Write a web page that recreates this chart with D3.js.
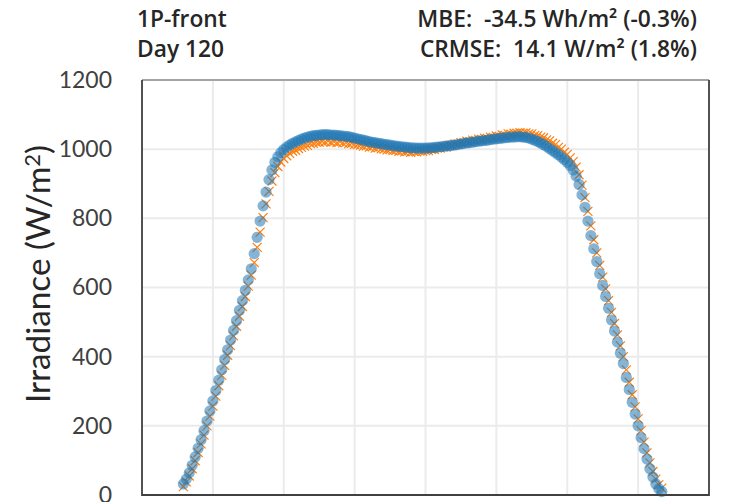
<!DOCTYPE html>
<html>
<head>
<meta charset="utf-8">
<script src="https://cdn.jsdelivr.net/npm/d3@7"></script>
<style>
  body { margin: 0; background: #fff; }
  text { font-family: Lato, 'Open Sans', sans-serif; }
</style>
</head>
<body>
<svg id="chart" width="731" height="502"></svg>
<script>
// 5-minute samples, first one at 05:10
const startTime = '05:10';
const stepMinutes = 5;

// measured (blue circles)
const measured = [
  32, 46, 64, 86, 110, 135, 160, 186, 214, 243, 272, 302,
  332, 362, 392, 420, 448, 476, 504, 534, 562, 592, 622, 654,
  698, 745, 792, 836, 876, 912, 940, 962, 978, 990, 999, 1006,
  1012, 1017, 1021, 1025, 1029, 1032, 1035, 1037, 1039, 1040, 1041, 1042,
  1042, 1042, 1041, 1041, 1040, 1039, 1038, 1037, 1036, 1034, 1032, 1030,
  1028, 1026, 1024, 1022, 1020, 1019, 1017, 1016, 1014, 1013, 1012, 1010,
  1009, 1008, 1007, 1006, 1005, 1004, 1004, 1003, 1003, 1003, 1003, 1004,
  1004, 1005, 1006, 1007, 1008, 1009, 1010, 1011, 1012, 1014, 1015, 1017,
  1018, 1019, 1020, 1022, 1023, 1024, 1025, 1026, 1028, 1029, 1030, 1031,
  1032, 1033, 1034, 1035, 1035, 1036, 1036, 1035, 1034, 1032, 1029, 1026,
  1022, 1018, 1013, 1008, 1002, 996, 990, 984, 977, 970, 962, 953,
  940, 922, 898, 868, 832, 792, 750, 712, 675, 640, 606, 574,
  540, 506, 474, 442, 410, 380, 340, 305, 268, 234, 200, 166,
  134, 104, 76, 52, 32, 18, 10
];

// modelled (orange crosses)
const modelled = [
  24, 38, 55, 76, 99, 123, 148, 173, 200, 228, 257, 286,
  316, 346, 375, 404, 432, 460, 488, 517, 545, 574, 604, 636,
  672, 716, 760, 802, 842, 878, 908, 932, 950, 963, 973, 981,
  988, 994, 997, 1002, 1005, 1009, 1011, 1016, 1017, 1020, 1020, 1023,
  1021, 1024, 1020, 1022, 1019, 1022, 1018, 1019, 1016, 1017, 1014, 1013,
  1012, 1009, 1010, 1006, 1007, 1003, 1004, 1001, 1000, 998, 999, 996,
  997, 994, 995, 992, 994, 991, 994, 992, 995, 994, 996, 996,
  999, 999, 1003, 1003, 1007, 1006, 1011, 1011, 1015, 1015, 1019, 1019,
  1023, 1022, 1026, 1025, 1029, 1028, 1032, 1031, 1035, 1034, 1038, 1037,
  1041, 1040, 1044, 1043, 1046, 1046, 1048, 1046, 1047, 1044, 1044, 1040,
  1039, 1035, 1033, 1027, 1024, 1017, 1013, 1005, 1000, 991, 985, 975,
  964, 948, 926, 896, 860, 820, 778, 738, 700, 664, 630, 596,
  562, 528, 496, 463, 431, 400, 362, 326, 290, 255, 220, 186,
  153, 122, 93, 68, 46, 30, 20
];

const hourTicks = [4, 6, 8, 10, 12, 14, 16, 18, 20];
const yTicks = [0, 200, 400, 600, 800, 1000, 1200];

const svg = d3.select('#chart');
const plotLeft = 142, plotRight = 709, plotTop = 80, plotBottom = 495;

const startHour = +startTime.split(':')[0] + startTime.split(':')[1] / 60;
const hourOf = i => startHour + i * stepMinutes / 60;

const xScale = d3.scaleLinear().domain([4, 20]).range([plotLeft, plotRight]);
const yScale = d3.scaleLinear().domain([0, 1200]).range([plotBottom, plotTop]);

svg.append('rect').attr('width', 731).attr('height', 502).attr('fill', '#fff');

// grid
svg.append('g')
   .selectAll('line')
   .data(yTicks.slice(1))
   .enter()
   .append('line')
   .attr('x1', plotLeft).attr('x2', plotRight)
   .attr('y1', d => yScale(d)).attr('y2', d => yScale(d))
   .attr('stroke', '#ebebeb').attr('stroke-width', 2);

svg.append('g')
   .selectAll('line')
   .data(hourTicks.slice(1, -1))
   .enter()
   .append('line')
   .attr('x1', d => xScale(d)).attr('x2', d => xScale(d))
   .attr('y1', plotTop).attr('y2', plotBottom)
   .attr('stroke', '#ebebeb').attr('stroke-width', 2);

// y axis labels (no tick marks)
const yAxis = d3.axisLeft(yScale)
                .tickValues(yTicks)
                .tickFormat(d3.format('d'))
                .tickSize(0)
                .tickPadding(30);
const yAx = svg.append('g')
   .attr('transform', `translate(${plotLeft}, 0)`)
   .call(yAxis);
yAx.select('.domain').remove();
yAx.selectAll('text')
   .style('font-size', '23px')
   .style('font-family', 'Lato, sans-serif')
   .attr('fill', '#404040');

// crosses first, circles over them
const armLen = 4.5;
svg.append('g')
   .selectAll('path')
   .data(modelled)
   .enter()
   .append('path')
   .attr('d', (d, i) => {
     const cx = xScale(hourOf(i)), cy = yScale(d);
     return `M${cx - armLen},${cy - armLen}L${cx + armLen},${cy + armLen}M${cx - armLen},${cy + armLen}L${cx + armLen},${cy - armLen}`;
   })
   .attr('stroke', '#ff7f0e')
   .attr('stroke-width', 1.2)
   .attr('fill', 'none');

svg.append('g')
   .selectAll('circle')
   .data(measured)
   .enter()
   .append('circle')
   .attr('cx', (d, i) => xScale(hourOf(i)))
   .attr('cy', d => yScale(d))
   .attr('r', 5.6)
   .attr('fill', '#1f77b4')
   .attr('fill-opacity', 0.55);

// frame
svg.append('line')
   .attr('x1', plotLeft).attr('x2', plotRight).attr('y1', plotTop).attr('y2', plotTop)
   .attr('stroke', '#8c8c8c').attr('stroke-width', 1.3);
svg.append('path')
   .attr('d', `M${plotLeft},${plotTop}V${plotBottom}H${plotRight}V${plotTop}`)
   .attr('fill', 'none')
   .attr('stroke', '#404040')
   .attr('stroke-width', 1.8);

// font size that makes a text span a given pixel width
const sizeForWidth = (sel, width) => {
  const size = parseFloat(sel.style('font-size'));
  return size * width / sel.node().getComputedTextLength();
};

const yLabel = svg.append('text')
   .attr('transform', `translate(50, 274) rotate(-90)`)
   .attr('text-anchor', 'middle')
   .attr('fill', '#262626')
   .style('font-size', '28px');
yLabel.append('tspan').text('Irradiance (W/m');
yLabel.append('tspan').attr('dy', '-0.45em').style('font-size', '0.66em').text('2');
yLabel.append('tspan').attr('dy', '0.3em').text(')');
yLabel.style('font-size', `${sizeForWidth(yLabel, 258)}px`);

const titles = [
  {text: '1P-front', x: 137, y: 27, anchor: 'start'},
  {text: 'Day 120', x: 137, y: 57, anchor: 'start'},
  {text: 'MBE:  -34.5 Wh/m² (-0.3%)', x: 697, y: 27, anchor: 'end'},
  {text: 'CRMSE:  14.1 W/m² (1.8%)', x: 697, y: 57, anchor: 'end'}
];
const titleEls = titles.map(t => svg.append('text')
   .attr('x', t.x).attr('y', t.y)
   .attr('text-anchor', t.anchor)
   .style('font-family', "'Open Sans', sans-serif")
   .style('font-size', '18px')
   .style('font-weight', 600)
   .style('white-space', 'pre')
   .attr('fill', '#262626')
   .text(t.text));
// one size for all four, a bit under what the MBE line width alone asks for
const titleSize = 0.93 * sizeForWidth(titleEls[2], 301);
titleEls.forEach(el => el.style('font-size', `${titleSize}px`));
</script>
</body>
</html>
